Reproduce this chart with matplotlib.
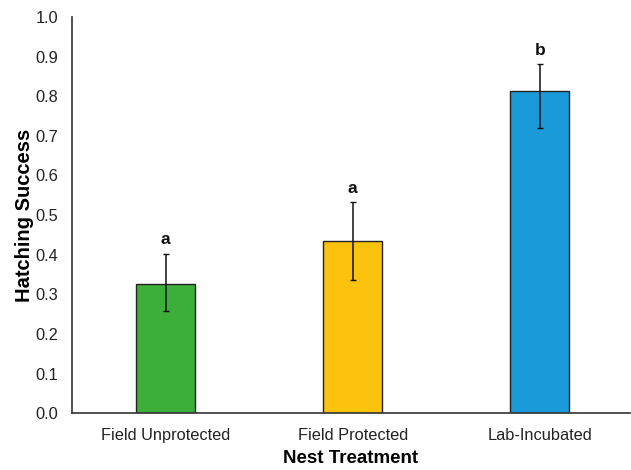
import matplotlib
matplotlib.use("Agg")
import matplotlib.pyplot as plt

plt.rcParams["font.family"] = ["Liberation Sans", "DejaVu Sans"]

treatments = ["Field Unprotected", "Field Protected", "Lab-Incubated"]
success = [0.327, 0.435, 0.812]
err_low = [0.068, 0.100, 0.092]
err_high = [0.075, 0.097, 0.068]
letters = ["a", "a", "b"]
colors = ["#3cae3a", "#fbc20e", "#1a9ad8"]

fig = plt.figure(figsize=(6.31, 4.70), dpi=100)
ax = fig.add_axes([0.114, 0.121, 0.884, 0.843])

x = range(len(treatments))
ax.bar(x, success, width=0.315, color=colors, edgecolor="#222222", linewidth=1.0, zorder=2)
ax.errorbar(x, success, yerr=[err_low, err_high], fmt="none", ecolor="#111111",
            elinewidth=1.1, capsize=2.5, capthick=1.0, zorder=3)

for xi, val, hi, lab in zip(x, success, err_high, letters):
    ax.text(xi, val + hi + 0.035, lab, ha="center", va="center",
            fontsize=12.5, fontweight="bold", color="#111111")

ax.set_xlim(-0.5, 2.48)
ax.set_ylim(0, 1.0)
ax.set_yticks([i / 10 for i in range(11)])
ax.set_yticklabels(["%.1f" % (i / 10) for i in range(11)])
ax.set_xticks(list(x))
ax.set_xticklabels(treatments)
ax.tick_params(axis="both", length=0, labelsize=11.8, colors="#222222")
ax.tick_params(axis="y", pad=10)
ax.tick_params(axis="x", pad=11)

for side in ["top", "right"]:
    ax.spines[side].set_visible(False)
ax.spines["left"].set_color("#333333")
ax.spines["bottom"].set_color("#333333")
ax.spines["left"].set_linewidth(1.2)
ax.spines["bottom"].set_linewidth(1.2)

ax.set_ylabel("Hatching Success", fontsize=14.5, fontweight="bold", labelpad=1)
ax.set_xlabel("Nest Treatment", fontsize=13.5, fontweight="bold", labelpad=5)

fig.savefig("out.png", dpi=100)
